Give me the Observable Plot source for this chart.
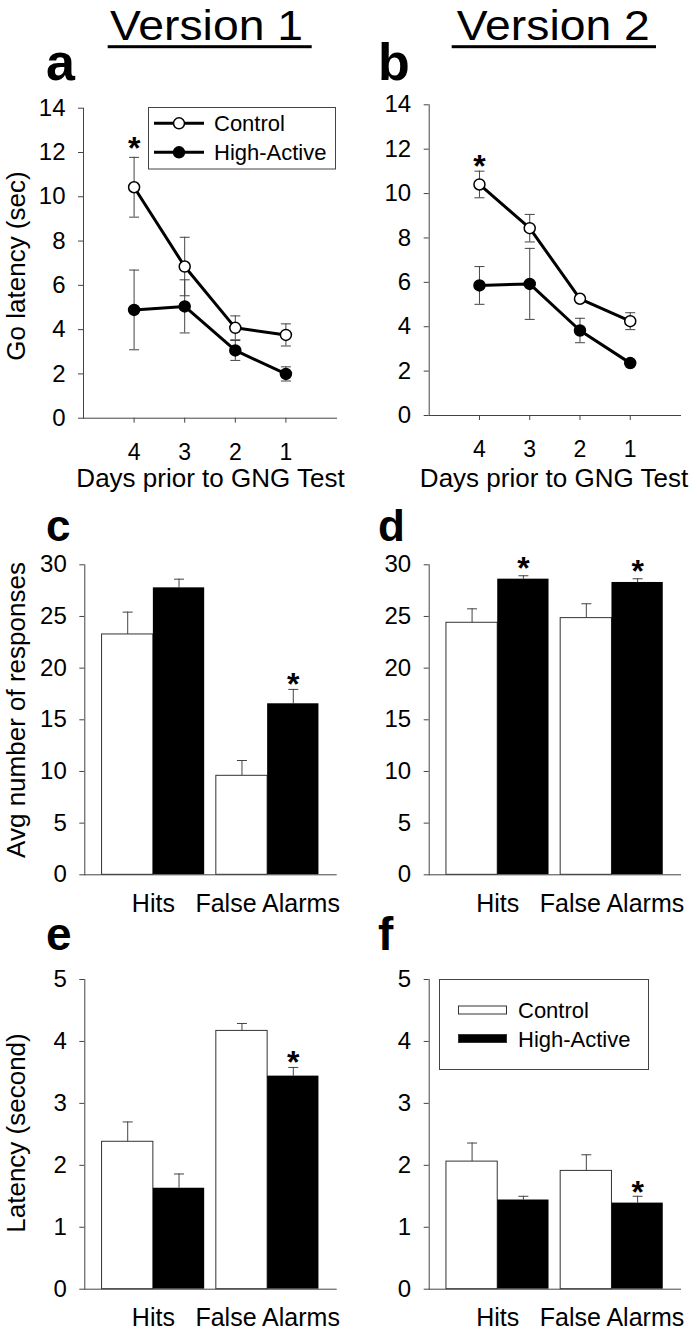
<!DOCTYPE html>
<html><head><meta charset="utf-8">
<script src="https://cdn.jsdelivr.net/npm/d3@7"></script>
<script src="https://cdn.jsdelivr.net/npm/@observablehq/plot@0.6"></script>
<style>
html,body{margin:0;padding:0;background:#fff;}
#page{position:relative;width:697px;height:1331px;overflow:hidden;background:#fff;font-family:"Liberation Sans",Arial,sans-serif;}
.panel{position:absolute;}
#overlay{position:absolute;left:0;top:0;}
</style></head><body><div id="page"></div>
<script>
// ---------- data ----------
const groups = ["Control", "High-Active"];
const groupFills = ["white", "black"];
const days = [4, 3, 2, 1];
const barCategories = ["Hits", "False Alarms"];
const lineYTicks = [0, 2, 4, 6, 8, 10, 12, 14];
const countTicks = [0, 5, 10, 15, 20, 25, 30];
const latencyTicks = [0, 1, 2, 3, 4, 5];

// a: Version 1 go latency
const goV1Control = [10.43, 6.85, 4.08, 3.76];
const goV1ControlSE = [1.35, 1.32, 0.54, 0.50];
const goV1High = [4.89, 5.05, 3.06, 2.00];
const goV1HighSE = [1.80, 1.20, 0.45, 0.32];
// b: Version 2 go latency
const goV2Control = [10.41, 8.44, 5.26, 4.25];
const goV2ControlSE = [0.60, 0.62, 0.12, 0.38];
const goV2High = [5.86, 5.93, 3.83, 2.36];
const goV2HighSE = [0.85, 1.60, 0.55, 0.10];
// c: Version 1 responses
const respV1Control = [23.26, 9.58];
const respV1ControlSE = [2.16, 1.48];
const respV1High = [27.77, 16.55];
const respV1HighSE = [0.84, 1.39];
// d: Version 2 responses
const respV2Control = [24.39, 24.84];
const respV2ControlSE = [1.35, 1.39];
const respV2High = [28.61, 28.29];
const respV2HighSE = [0.33, 0.36];
// e: Version 1 latency
const latV1Control = [2.38, 4.17];
const latV1ControlSE = [0.32, 0.12];
const latV1High = [1.63, 3.44];
const latV1HighSE = [0.23, 0.14];
// f: Version 2 latency
const latV2Control = [2.06, 1.91];
const latV2ControlSE = [0.30, 0.26];
const latV2High = [1.44, 1.39];
const latV2HighSE = [0.06, 0.11];

// significance markers
const starsA = [{key: 4, ref: "Control"}];
const starsB = [{key: 4, ref: "Control"}];
const starsC = [{key: "False Alarms", ref: "High-Active"}];
const starsD = [{key: "Hits", ref: "High-Active"}, {key: "False Alarms", ref: "High-Active"}];
const starsE = [{key: "False Alarms", ref: "High-Active"}];
const starsF = [{key: "False Alarms", ref: "High-Active"}];

// ---------- style ----------
const FONT = '"Liberation Sans", Arial, sans-serif';
const axisColor = "#444";
const errColor = "#444";
const tickFont = 24;
const intFmt = d3.format("d");
const page = document.getElementById("page");

const capSymbol = {
  draw(ctx, size) {
    const r = Math.sqrt(size / Math.PI);
    ctx.moveTo(-r, 0);
    ctx.lineTo(r, 0);
  }
};

function lineRows(c, cse, h, hse) {
  return days.flatMap((d, i) => [
    {day: d, group: groups[0], value: c[i], se: cse[i]},
    {day: d, group: groups[1], value: h[i], se: hse[i]}
  ]);
}
function barRows(c, cse, h, hse) {
  return barCategories.flatMap((k, i) => [
    {category: k, group: groups[0], value: c[i], se: cse[i]},
    {category: k, group: groups[1], value: h[i], se: hse[i]}
  ]);
}

function place(svg, left, top) {
  const div = document.createElement("div");
  div.className = "panel";
  div.style.left = left + "px";
  div.style.top = top + "px";
  div.appendChild(svg);
  page.appendChild(div);
}

function linePanel({rows, stars, left, top, width, height, mL, mR, mT, mB, starDy}) {
  const starRows = stars.map(s => rows.find(r => r.day === s.key && r.group === s.ref));
  const svg = Plot.plot({
    width, height, marginLeft: mL, marginRight: mR, marginTop: mT, marginBottom: mB,
    style: {fontFamily: FONT, fontSize: tickFont + "px", color: "black", background: "transparent", overflow: "visible"},
    x: {domain: [5, 0]},
    y: {domain: [0, 14]},
    color: {domain: groups, range: groupFills},
    marks: [
      Plot.frame({anchor: "left", stroke: axisColor}),
      Plot.frame({anchor: "bottom", stroke: axisColor}),
      Plot.axisY({ticks: lineYTicks, tickFormat: intFmt, tickSize: 5, tickPadding: 13, fontSize: tickFont, stroke: axisColor, label: null}),
      Plot.axisX({ticks: days, tickFormat: intFmt, tickSize: 5, tickPadding: 20, fontSize: 23, stroke: axisColor, label: null}),
      Plot.ruleX(rows, {x: "day", y1: d => d.value - d.se, y2: d => d.value + d.se, stroke: errColor, strokeWidth: 1}),
      Plot.dot(rows, {x: "day", y: d => d.value - d.se, symbol: capSymbol, r: 5, fill: "none", stroke: errColor, strokeWidth: 1}),
      Plot.dot(rows, {x: "day", y: d => d.value + d.se, symbol: capSymbol, r: 5, fill: "none", stroke: errColor, strokeWidth: 1}),
      Plot.line(rows, {x: "day", y: "value", z: "group", stroke: "black", strokeWidth: 3}),
      Plot.dot(rows, {x: "day", y: "value", r: 5.5, fill: "group", stroke: "black", strokeWidth: 1.5}),
      Plot.text(starRows, {x: "day", y: d => d.value + d.se, text: () => "*", fontSize: 32, fontWeight: "bold", dy: starDy, fill: "black"})
    ]
  });
  place(svg, left, top);
}

const PAD_INNER = 0.102, PAD_OUTER = 0.151;
function barPanel({rows, stars, ticks, yMax, left, top, width, height, mL, mR, mT, mB, starDy}) {
  const bw = d3.scaleBand().domain(barCategories).range([0, width - mL - mR])
    .paddingInner(PAD_INNER).paddingOuter(PAD_OUTER).bandwidth();
  const ctrl = rows.filter(r => r.group === groups[0]);
  const high = rows.filter(r => r.group === groups[1]);
  const starRows = stars.map(s => rows.find(r => r.category === s.key && r.group === s.ref));
  const off = g => (g === groups[0] ? -bw / 4 : bw / 4);
  const errMarks = (data) => {
    const dx = off(data[0].group);
    return [
      Plot.ruleX(data, {x: "category", y1: "value", y2: d => d.value + d.se, dx, stroke: errColor, strokeWidth: 1}),
      Plot.dot(data, {x: "category", y: d => d.value + d.se, dx, symbol: capSymbol, r: 5, fill: "none", stroke: errColor, strokeWidth: 1})
    ];
  };
  const svg = Plot.plot({
    width, height, marginLeft: mL, marginRight: mR, marginTop: mT, marginBottom: mB,
    style: {fontFamily: FONT, fontSize: tickFont + "px", color: "black", background: "transparent", overflow: "visible"},
    x: {type: "band", domain: barCategories, paddingInner: PAD_INNER, paddingOuter: PAD_OUTER, round: false},
    y: {domain: [0, yMax]},
    color: {domain: groups, range: groupFills},
    marks: [
      ...errMarks(ctrl),
      ...errMarks(high),
      Plot.barY(ctrl, {x: "category", y: "value", fill: "group", stroke: "#333", strokeWidth: 1, insetRight: bw / 2}),
      Plot.barY(high, {x: "category", y: "value", fill: "group", insetLeft: bw / 2}),
      Plot.frame({anchor: "left", stroke: axisColor}),
      Plot.frame({anchor: "bottom", stroke: axisColor}),
      Plot.axisY({ticks, tickFormat: intFmt, tickSize: 5, tickPadding: 13, fontSize: tickFont, stroke: axisColor, label: null}),
      Plot.axisX({tickSize: 0, tickPadding: 19, fontSize: 25, label: null}),
      Plot.text(starRows, {x: "category", y: d => d.value + d.se, dx: bw / 4, text: () => "*", fontSize: 32, fontWeight: "bold", dy: starDy, fill: "black"})
    ]
  });
  place(svg, left, top);
}

linePanel({rows: lineRows(goV1Control, goV1ControlSE, goV1High, goV1HighSE), stars: starsA,
  left: 0, top: 95, width: 345, height: 360, mL: 83, mR: 9, mT: 12.7, mB: 37.3, starDy: -9});
linePanel({rows: lineRows(goV2Control, goV2ControlSE, goV2High, goV2HighSE), stars: starsB,
  left: 350, top: 92, width: 347, height: 363, mL: 78.7, mR: 17, mT: 12.3, mB: 40, starDy: -4});
barPanel({rows: barRows(respV1Control, respV1ControlSE, respV1High, respV1HighSE), stars: starsC, ticks: countTicks, yMax: 30,
  left: 0, top: 550, width: 345, height: 370, mL: 84.3, mR: 9.3, mT: 14.3, mB: 45.7, starDy: -4.5});
barPanel({rows: barRows(respV2Control, respV2ControlSE, respV2High, respV2HighSE), stars: starsD, ticks: countTicks, yMax: 30,
  left: 350, top: 550, width: 347, height: 370, mL: 78.7, mR: 17, mT: 14.3, mB: 45.7, starDy: -7});
barPanel({rows: barRows(latV1Control, latV1ControlSE, latV1High, latV1HighSE), stars: starsE, ticks: latencyTicks, yMax: 5,
  left: 0, top: 965, width: 345, height: 366, mL: 84.3, mR: 9.3, mT: 14, mB: 42.3, starDy: -5});
barPanel({rows: barRows(latV2Control, latV2ControlSE, latV2High, latV2HighSE), stars: starsF, ticks: latencyTicks, yMax: 5,
  left: 350, top: 965, width: 347, height: 366, mL: 78.7, mR: 17, mT: 14, mB: 42.3, starDy: -3.5});

// ---------- overlay: headings, panel letters, axis titles, legends ----------
const ov = d3.create("svg").attr("id", "overlay").attr("width", 697).attr("height", 1331)
  .style("font-family", FONT).style("overflow", "visible");

const headers = [
  {text: "Version 1", x: 206.5, ux: 107.7, uw: 204},
  {text: "Version 2", x: 553.3, ux: 451.7, uw: 204.3}
];
for (const h of headers) {
  ov.append("text").attr("x", h.x).attr("y", 40).attr("text-anchor", "middle")
    .attr("font-size", 43).attr("textLength", 193).attr("lengthAdjust", "spacingAndGlyphs").text(h.text);
  ov.append("rect").attr("x", h.ux).attr("y", 45.2).attr("width", h.uw).attr("height", 3).attr("fill", "black");
}

const letters = [
  {t: "a", x: 46, y: 80, s: 52}, {t: "b", x: 378, y: 80, s: 52},
  {t: "c", x: 46, y: 541, s: 44}, {t: "d", x: 378, y: 541, s: 44},
  {t: "e", x: 46, y: 950, s: 46}, {t: "f", x: 378, y: 950, s: 46}
];
for (const l of letters) {
  ov.append("text").attr("x", l.x).attr("y", l.y).attr("font-size", l.s).attr("font-weight", "bold").text(l.t);
}

const yTitles = [
  {t: "Go latency (sec)", y: 266},
  {t: "Avg number of responses", y: 710},
  {t: "Latency (second)", y: 1133}
];
for (const yt of yTitles) {
  ov.append("text").attr("transform", `translate(25,${yt.y}) rotate(-90)`).attr("text-anchor", "middle")
    .attr("font-size", 26).text(yt.t);
}
const xTitles = [{t: "Days prior to GNG Test", x: 210.5}, {t: "Days prior to GNG Test", x: 554}];
for (const xt of xTitles) {
  ov.append("text").attr("x", xt.x).attr("y", 487).attr("text-anchor", "middle").attr("font-size", 26).text(xt.t);
}

// legend a (line + circle markers)
{
  const g = ov.append("g");
  g.append("rect").attr("x", 148.5).attr("y", 107.5).attr("width", 187).attr("height", 61.5)
    .attr("fill", "white").attr("stroke", axisColor).attr("stroke-width", 1);
  const rowsY = [123.3, 152.3];
  groups.forEach((name, i) => {
    g.append("line").attr("x1", 154).attr("x2", 204).attr("y1", rowsY[i]).attr("y2", rowsY[i])
      .attr("stroke", "black").attr("stroke-width", 3);
    g.append("circle").attr("cx", 179).attr("cy", rowsY[i]).attr("r", 5.5)
      .attr("fill", groupFills[i]).attr("stroke", "black").attr("stroke-width", 1.5);
    g.append("text").attr("x", 214).attr("y", rowsY[i] + 8).attr("font-size", 22).text(name);
  });
}
// legend f (bar swatches)
{
  const g = ov.append("g");
  g.append("rect").attr("x", 439.5).attr("y", 979.5).attr("width", 209).attr("height", 90)
    .attr("fill", "white").attr("stroke", axisColor).attr("stroke-width", 1);
  const rowsY = [1010, 1038.5];
  groups.forEach((name, i) => {
    g.append("rect").attr("x", 458.5).attr("y", rowsY[i] - 4).attr("width", 48).attr("height", 8)
      .attr("fill", groupFills[i]).attr("stroke", "#333").attr("stroke-width", 1);
    g.append("text").attr("x", 518).attr("y", rowsY[i] + 8).attr("font-size", 22).text(name);
  });
}
page.appendChild(ov.node());
</script></body></html>
